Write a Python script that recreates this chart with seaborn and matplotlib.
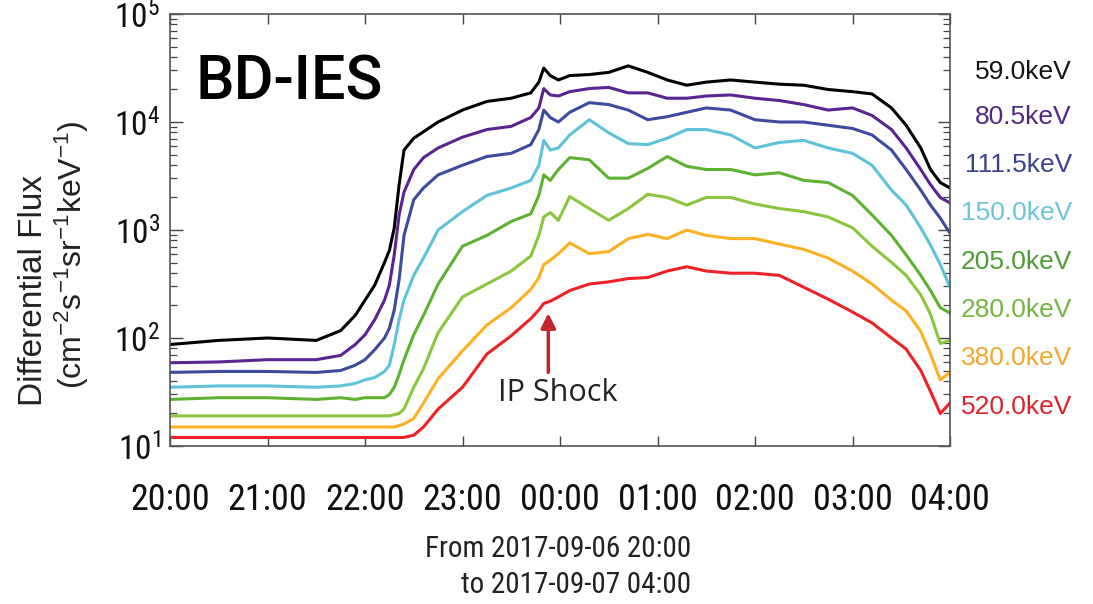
import os
import numpy as np
import pandas as pd
import matplotlib
matplotlib.use("Agg")
import matplotlib.pyplot as plt
from matplotlib import font_manager as fm
import seaborn as sns
from matplotlib.ticker import FixedLocator, LogLocator, NullFormatter

# ---------------- data ----------------
minutes = [0, 30, 60, 90, 105, 114, 120, 126, 132, 135, 138, 141, 144, 150, 156, 165,
           180, 195, 210, 222, 227, 230, 234, 239, 246, 258, 270, 282, 294, 306, 318,
           330, 345, 360, 375, 390, 405, 420, 432, 444, 453, 462, 468, 474, 480]

flux_59 = [87, 95, 100, 95, 117, 162, 224, 309, 501, 646, 1050, 2630, 5500, 7080, 8130,
           10000, 12900, 15500, 16600, 18600, 23400, 31600, 26900, 24500, 26900, 27500,
           28800, 33100, 28800, 24500, 21900, 23400, 24500, 23400, 22400, 21900, 20000,
           19100, 18200, 13500, 9330, 5750, 3630, 2750, 2450]
flux_80 = [59, 60, 63, 63, 69, 87, 107, 148, 224, 309, 589, 1380, 2240, 3630, 4680, 5750,
           7240, 8510, 9120, 11000, 13500, 20400, 17800, 17400, 19100, 20400, 20900, 18600,
           18600, 16600, 16600, 17400, 17800, 16600, 15800, 14500, 12900, 13500, 11500,
           8510, 5750, 3630, 2630, 2000, 1780]
flux_111 = [48, 49, 49, 48, 50, 56, 63, 78, 100, 123, 182, 347, 891, 1910, 2450, 3240,
            3980, 4790, 5130, 6170, 8510, 12900, 11000, 10000, 12300, 15100, 14500, 12900,
            10500, 11200, 12300, 13500, 12900, 10500, 10000, 10000, 9330, 8710, 7590, 5500,
            3630, 2340, 1700, 1290, 933]
flux_150 = [35, 36, 36, 35, 36, 38, 41, 43, 49, 56, 87, 148, 224, 380, 550, 1000, 1480,
            2090, 2450, 2880, 3980, 6760, 5500, 5750, 7590, 10500, 7940, 6310, 6170, 7080,
            8510, 8510, 7590, 5750, 6460, 6760, 5750, 5130, 3980, 2340, 1700, 1050, 724,
            479, 295]
flux_205 = [27, 28, 28, 27, 28, 27, 28, 28, 28, 30, 35, 46, 63, 107, 162, 316, 708, 891,
            1200, 1410, 2090, 3240, 2880, 3630, 4680, 4470, 3020, 3020, 3720, 4790, 3890,
            3630, 3630, 3240, 3390, 2880, 2750, 2090, 1380, 891, 589, 380, 275, 191, 170]
flux_280 = [19, 19, 19, 19, 19, 19, 19, 19, 19, 19, 19.5, 20, 22, 35, 52, 112, 240, 316,
            417, 575, 891, 1320, 1450, 1230, 2040, 1580, 1230, 1580, 2140, 2000, 1700, 2000,
            2000, 1740, 1580, 1480, 1320, 1050, 708, 501, 380, 251, 166, 89, 95]
flux_380 = [15, 15, 15, 15, 15, 15, 15, 15, 15, 15, 15, 15.5, 16, 18, 25, 42, 76, 132, 191,
            282, 363, 479, 525, 603, 759, 603, 631, 832, 912, 832, 1000, 891, 832, 832, 741,
            661, 550, 417, 316, 224, 178, 115, 71, 41, 48]
flux_520 = [12, 12, 12, 12, 12, 12, 12, 12, 12, 12, 12, 12, 12, 12.6, 15, 22, 35, 71, 105,
            151, 182, 209, 219, 240, 275, 316, 331, 355, 363, 417, 457, 417, 398, 398, 380,
            295, 229, 174, 138, 100, 79, 50, 32, 20, 25]

channels = ["59.0keV", "80.5keV", "111.5keV", "150.0keV",
            "205.0keV", "280.0keV", "380.0keV", "520.0keV"]
series = [flux_59, flux_80, flux_111, flux_150, flux_205, flux_280, flux_380, flux_520]

line_colors = ["#000000", "#5b2590", "#3e4a9e", "#5fc2d8",
               "#5db232", "#8cc63f", "#fbb123", "#ec2226"]
label_colors = ["#151515", "#4f2a80", "#3d428f", "#6ec6d4",
                "#4f9c35", "#78b443", "#f2a832", "#d9262d"]

hour_labels = ["20:00", "21:00", "22:00", "23:00", "00:00",
               "01:00", "02:00", "03:00", "04:00"]
decades = [1, 2, 3, 4, 5]

# ---------------- build long-form table ----------------
hours = np.array(minutes) / 60.0
frames = []
for name, vals in zip(channels, series):
    assert len(vals) == len(minutes)
    frames.append(pd.DataFrame({"hours": hours, "flux": vals, "channel": name}))
df = pd.concat(frames, ignore_index=True)

# ---------------- fonts ----------------
sns.set_theme(style="white")
plt.rcParams['font.family'] = ['Liberation Sans', 'DejaVu Sans']
plt.rcParams['mathtext.fontset'] = 'custom'
plt.rcParams['mathtext.rm'] = 'Liberation Sans'
plt.rcParams['mathtext.it'] = 'Liberation Sans:italic'
plt.rcParams['mathtext.bf'] = 'Liberation Sans:bold'

narrow_path = None
prefs = ["liberationsansnarrow-regular", "notosans-condensed.", "notosanscondensed-regular",
         "robotocondensed-regular", "dejavusanscondensed.", "opensans_condensed-regular",
         "opensanscondensed-regular", "opensans-condensedregular"]
all_files = [f.fname for f in fm.fontManager.ttflist]
for p in prefs:
    hits = [f for f in all_files if os.path.basename(f).lower().startswith(p)]
    if hits:
        narrow_path = hits[0]
        break

if narrow_path:
    fp_x = fm.FontProperties(fname=narrow_path, size=26)
    fp_y = fm.FontProperties(fname=narrow_path, size=24)
    fp_d = fm.FontProperties(fname=narrow_path, size=21)
else:
    fp_x = fm.FontProperties(family="Liberation Sans", size=22)
    fp_y = fm.FontProperties(family="Liberation Sans", size=20)
    fp_d = fm.FontProperties(family="Liberation Sans", size=18)

# ---------------- figure ----------------
fig = plt.figure(figsize=(10.93, 6.04), dpi=100)
fig.patch.set_facecolor("white")
ax = fig.add_axes([170 / 1093, 1 - 446 / 604, 780 / 1093, 432 / 604])

sns.lineplot(data=df, x="hours", y="flux", hue="channel", hue_order=channels,
             palette=dict(zip(channels, line_colors)), estimator=None, sort=False,
             legend=False, linewidth=2.2, ax=ax)

ax.set_yscale("log")
ax.set_ylim(10, 1e5)
ax.set_xlim(0, 8)
ax.set_xlabel("")
ax.set_ylabel("")

ax.set_xticks(np.arange(0, 9))
ax.set_xticklabels(hour_labels, fontproperties=fp_x, color="#111111")
ax.set_yticks([10.0 ** e for e in decades])
ax.set_yticklabels([r"$\mathdefault{10^{%d}}$" % e for e in decades],
                   fontproperties=fp_y, color="#111111")
ax.yaxis.set_minor_locator(LogLocator(base=10, subs=np.arange(2, 10), numticks=20))
ax.yaxis.set_minor_formatter(NullFormatter())

ax.tick_params(axis="x", which="major", direction="in", length=7, width=1.0,
               color="#444444", top=True, bottom=True, pad=26)
ax.tick_params(axis="y", which="major", direction="in", length=9, width=1.0,
               color="#444444", left=True, right=True, pad=7)
ax.tick_params(axis="y", which="minor", direction="in", length=5, width=0.9,
               color="#444444", left=True, right=True)
for s in ax.spines.values():
    s.set_color("#555555")
    s.set_linewidth(1.2)

# IP shock annotation
ax.annotate("", xy=(3.88, 170), xytext=(3.88, 48),
            arrowprops=dict(arrowstyle="-|>", color="#c1272d", lw=2.5,
                            mutation_scale=22, shrinkA=0, shrinkB=0))
ax.text(3.98, 31, "IP Shock", ha="center", va="center", fontsize=22,
        family=["Open Sans", "DejaVu Sans"], color="#222222")

# BD-IES title
fig.text(195 / 1093, 1 - 100 / 604, "BD-IES", ha="left", va="baseline",
         fontsize=44, family=["Roboto", "DejaVu Sans"], fontweight="medium",
         color="black")

# channel labels on the right
label_y = [72, 117, 165, 213, 262, 310, 358, 407]
for name, col, yp in zip(channels, label_colors, label_y):
    fig.text(1072 / 1093, 1 - yp / 604, name, ha="right", va="center",
             fontsize=19, family=["Liberation Sans", "DejaVu Sans"], color=col)

# y-axis label (two lines)
fig.text(34 / 1093, 1 - 290 / 604, "Differential Flux", rotation=90,
         ha="center", va="center", fontsize=24,
         family=["Liberation Sans", "DejaVu Sans"], color="#222222")
fig.text(72 / 1093, 1 - 255 / 604,
         r"(cm$^{-2}$s$^{-1}$sr$^{-1}$keV$^{-1}$)", rotation=90,
         ha="center", va="center", fontsize=23,
         family=["Liberation Sans", "DejaVu Sans"], color="#222222")

# date range text
fig.text(691 / 1093, 1 - 567 / 604, "From 2017-09-06 20:00\nto 2017-09-07 04:00",
         ha="right", va="center", multialignment="right", fontproperties=fp_d,
         linespacing=1.35, color="#222222")

fig.savefig("out.png", dpi=100, facecolor="white")
